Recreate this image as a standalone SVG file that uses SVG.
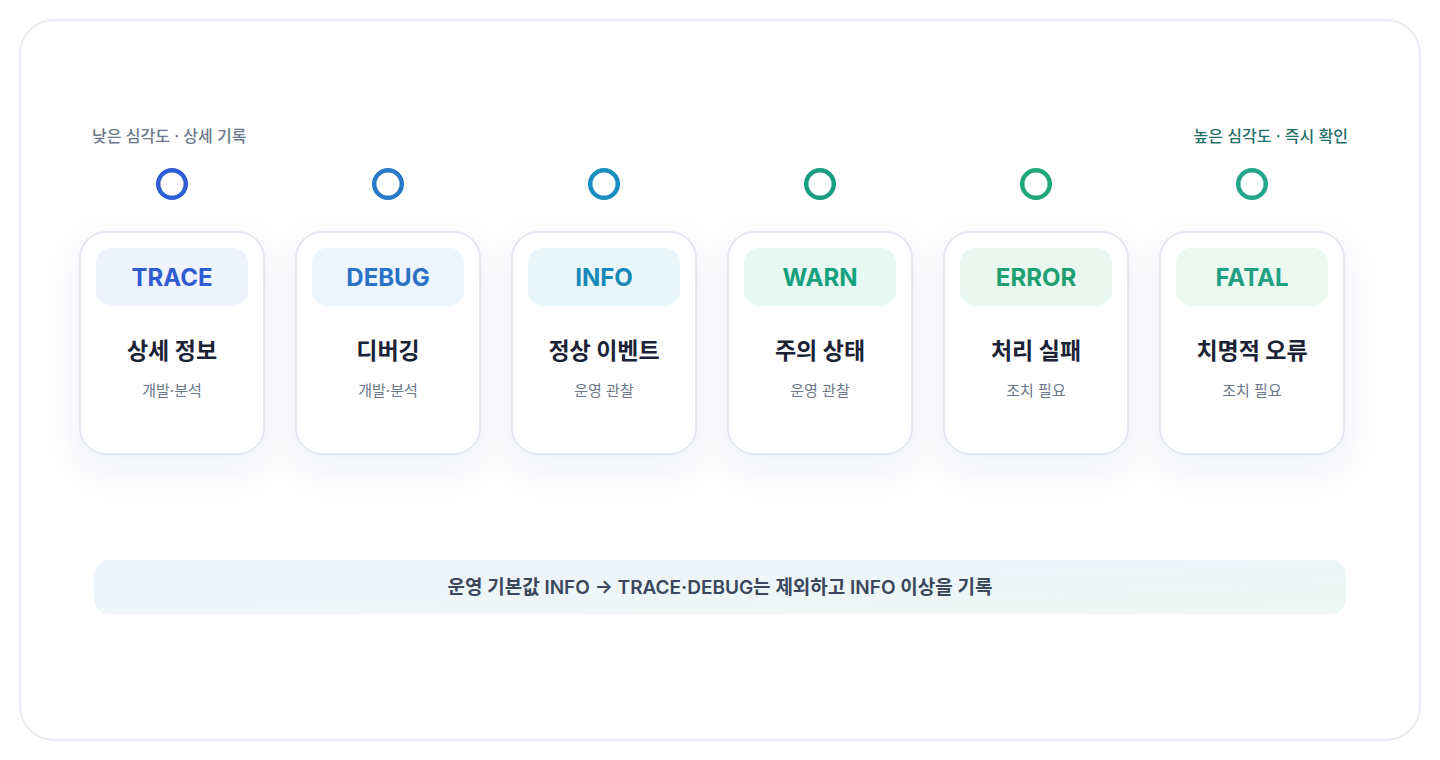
<svg xmlns="http://www.w3.org/2000/svg" width="1440" height="760" viewBox="0 0 1440 760">
<defs>
<filter id="shadow" x="-40%" y="-30%" width="180%" height="180%">
<feDropShadow dx="0" dy="14" stdDeviation="18" flood-color="#1e3a6e" flood-opacity="0.07"/>
</filter>
<linearGradient id="banner" x1="0" y1="0" x2="1" y2="1">
<stop offset="0" stop-color="#eef3fe"/>
<stop offset="1" stop-color="#ebf8f2"/>
</linearGradient>
<style>
.frame{fill:#ffffff;stroke:#e6eaf2;stroke-width:2}
.card{fill:#ffffff;stroke:#e2e7f1;stroke-width:2}
.ring{fill:none;stroke-width:4.5}
.badge-t{font-family:Inter,"Noto Sans","Noto Sans CJK KR",sans-serif;font-size:24px;font-weight:700;text-anchor:middle}
.title{font-family:Inter,"Noto Sans CJK KR",sans-serif;font-size:23px;font-weight:700;fill:#1a2236;text-anchor:middle}
.sub{font-family:Inter,"Noto Sans CJK KR",sans-serif;font-size:15px;font-weight:400;fill:#6b778c;text-anchor:middle}
.edge{font-family:Inter,"Noto Sans CJK KR",sans-serif;font-size:16px;font-weight:500}
.note{font-family:Inter,"Noto Sans CJK KR",sans-serif;font-size:19px;font-weight:600;fill:#3a475c;text-anchor:middle}
</style>
</defs>
<rect class="frame" x="20" y="20" width="1400" height="720" rx="34"/>
<text class="edge" x="92" y="142" fill="#6b778c">낮은 심각도 · 상세 기록</text>
<text class="edge" x="1348" y="142" fill="#1f6f6a" text-anchor="end">높은 심각도 · 즉시 확인</text>
<g id="connectors"></g>
<g id="node-trace">
<circle class="ring" cx="172" cy="184" r="13.8" stroke="#2f5fd6"/>
<rect class="card" x="80" y="232" width="184" height="222" rx="26" filter="url(#shadow)"/>
<rect x="96" y="248" width="152" height="58" rx="15" fill="#eef3fe"/>
<text class="badge-t" x="172" y="286" fill="#2f5bd3">TRACE</text>
<text class="title" x="172" y="359">상세 정보</text>
<text class="sub" x="172" y="396">개발·분석</text>
</g>
<g id="node-debug">
<circle class="ring" cx="388" cy="184" r="13.8" stroke="#2a78c8"/>
<rect class="card" x="296" y="232" width="184" height="222" rx="26" filter="url(#shadow)"/>
<rect x="312" y="248" width="152" height="58" rx="15" fill="#edf5fe"/>
<text class="badge-t" x="388" y="286" fill="#2a72c6">DEBUG</text>
<text class="title" x="388" y="359">디버깅</text>
<text class="sub" x="388" y="396">개발·분석</text>
</g>
<g id="node-info">
<circle class="ring" cx="604" cy="184" r="13.8" stroke="#1a8fbf"/>
<rect class="card" x="512" y="232" width="184" height="222" rx="26" filter="url(#shadow)"/>
<rect x="528" y="248" width="152" height="58" rx="15" fill="#e9f7fa"/>
<text class="badge-t" x="604" y="286" fill="#1688b8">INFO</text>
<text class="title" x="604" y="359">정상 이벤트</text>
<text class="sub" x="604" y="396">운영 관찰</text>
</g>
<g id="node-warn">
<circle class="ring" cx="820" cy="184" r="13.8" stroke="#1a9e82"/>
<rect class="card" x="728" y="232" width="184" height="222" rx="26" filter="url(#shadow)"/>
<rect x="744" y="248" width="152" height="58" rx="15" fill="#e8f8f3"/>
<text class="badge-t" x="820" y="286" fill="#16a07c">WARN</text>
<text class="title" x="820" y="359">주의 상태</text>
<text class="sub" x="820" y="396">운영 관찰</text>
</g>
<g id="node-error">
<circle class="ring" cx="1036" cy="184" r="13.8" stroke="#1fa67a"/>
<rect class="card" x="944" y="232" width="184" height="222" rx="26" filter="url(#shadow)"/>
<rect x="960" y="248" width="152" height="58" rx="15" fill="#eaf8f1"/>
<text class="badge-t" x="1036" y="286" fill="#1fa072">ERROR</text>
<text class="title" x="1036" y="359">처리 실패</text>
<text class="sub" x="1036" y="396">조치 필요</text>
</g>
<g id="node-fatal">
<circle class="ring" cx="1252" cy="184" r="13.8" stroke="#22a58a"/>
<rect class="card" x="1160" y="232" width="184" height="222" rx="26" filter="url(#shadow)"/>
<rect x="1176" y="248" width="152" height="58" rx="15" fill="#ecf9f1"/>
<text class="badge-t" x="1252" y="286" fill="#22a084">FATAL</text>
<text class="title" x="1252" y="359">치명적 오류</text>
<text class="sub" x="1252" y="396">조치 필요</text>
</g>
<g id="note">
<rect x="94" y="560" width="1252" height="54" rx="15" fill="url(#banner)"/>
<text class="note" x="720" y="594">운영 기본값 INFO → TRACE·DEBUG는 제외하고 INFO 이상을 기록</text>
</g>
</svg>
